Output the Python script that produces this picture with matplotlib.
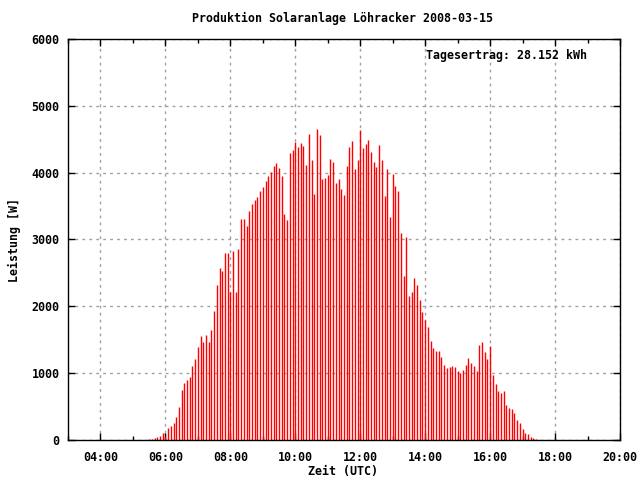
import matplotlib
matplotlib.use("Agg")
import matplotlib.pyplot as plt
from matplotlib.ticker import MultipleLocator, FuncFormatter

# 5-minute readings from 05:30 to 17:25 (UTC), power in W
start_hour = 5.5
step_min = 5
leistung = [
    15, 15, 30, 45, 60, 105, 60, 179, 209, 254,
    344, 493, 747, 852, 897, 941, 1106, 1210, 1390, 1554,
    1464, 1569, 1464, 1644, 1928, 2316, 2570, 2525, 2794, 2794,
    2212, 2824, 2212, 2854, 3302, 3302, 3198, 3422, 3527, 3586,
    3631, 3721, 3781, 3870, 3945, 4005, 4094, 4139, 4064, 3945,
    3377, 3287, 4289, 4333, 4453, 4378, 4438, 4393, 4109, 4573,
    4184, 3676, 4647, 4558, 3900, 3915, 3960, 4199, 4154, 3840,
    3900, 3751, 3661,
    4094, 4378, 4468, 4049, 4184, 4632, 4363, 4423, 4483, 4304,
    4154, 4079, 4408, 4184, 3646, 4049, 3332, 3975, 3795, 3721,
    3093, 2451, 3033, 2152, 2212, 2421, 2316, 2092, 1913, 1793,
    1689, 1479, 1375, 1330, 1330, 1240, 1121, 1076, 1091, 1106,
    1091, 1031, 1001, 1046, 1121, 1225, 1151, 1106, 1031, 1420,
    1464, 1315, 1210, 1405, 971, 837, 732, 702, 732, 523,
    478, 463, 403, 299, 254, 164, 105, 90, 45, 30,
    15,
]
zeit = [start_hour + i * step_min / 60 for i in range(len(leistung))]

title = "Produktion Solaranlage Löhracker 2008-03-15"
ertrag = "Tagesertrag: 28.152 kWh"

font = dict(family="DejaVu Sans Mono", fontweight="bold", fontsize=8.4)

fig = plt.figure(figsize=(6.4, 4.8), dpi=100)
ax = fig.add_axes([68 / 640, 40 / 480, 552 / 640, 401 / 480])

ax.vlines(zeit, 0, leistung, colors="#ff0000", linewidth=1.0)

ax.set_xlim(3, 20)
ax.set_ylim(0, 6000)

ax.xaxis.set_major_locator(MultipleLocator(2))
ax.xaxis.set_minor_locator(MultipleLocator(1))
ax.yaxis.set_major_locator(MultipleLocator(1000))
ax.xaxis.set_major_formatter(FuncFormatter(lambda v, p: "%02d:00" % int(round(v))))

ax.tick_params(which="both", direction="in", top=True, right=True,
               color="black", width=1)
ax.tick_params(which="major", length=5)
ax.tick_params(which="minor", length=3)
ax.tick_params(axis="x", pad=8)
ax.tick_params(axis="y", pad=6)

for lab in ax.get_xticklabels() + ax.get_yticklabels():
    lab.set_fontfamily(font["family"])
    lab.set_fontweight("bold")
    lab.set_fontsize(font["fontsize"])

ax.grid(True, which="major", color="#a0a0a0", linestyle=(0, (2, 3)), linewidth=1)
ax.set_axisbelow(True)
for s in ax.spines.values():
    s.set_linewidth(1)
    s.set_color("black")

ax.set_ylabel("Leistung [W]", labelpad=8, **font)
fig.text(343 / 640, 1 - 472 / 480, "Zeit (UTC)", ha="center", va="center", **font)
fig.text(343 / 640, 1 - 18 / 480, title, ha="center", va="center", **font)
ax.text(587 / 640, 1 - 56 / 480, ertrag, transform=fig.transFigure,
        ha="right", va="center", **font)

fig.savefig("out.png", dpi=100)
